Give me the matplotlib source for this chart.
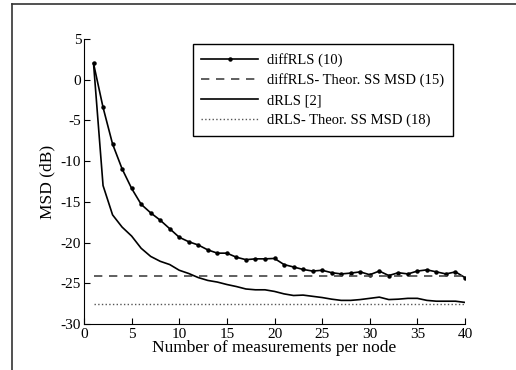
import matplotlib
matplotlib.use("Agg")
import matplotlib.pyplot as plt
from matplotlib.lines import Line2D

# measurements per node
n_meas = list(range(1, 41))

# diffRLS (10), simulated MSD in dB
msd_diffrls = [2.0, -3.4, -7.9, -10.95, -13.35, -15.3, -16.35, -17.25, -18.3, -19.35,
               -19.9, -20.3, -20.9, -21.3, -21.3, -21.8, -22.1, -22.0, -22.0, -21.95,
               -22.7, -23.0, -23.3, -23.5, -23.4, -23.7, -23.85, -23.75, -23.6, -23.95,
               -23.5, -24.05, -23.7, -23.85, -23.5, -23.35, -23.6, -23.85, -23.6, -24.3]

# dRLS [2]
msd_drls = [2.0, -13.0, -16.6, -18.1, -19.2, -20.7, -21.7, -22.3, -22.7, -23.4,
            -23.8, -24.3, -24.65, -24.85, -25.15, -25.4, -25.7, -25.8, -25.8, -26.0,
            -26.3, -26.5, -26.45, -26.6, -26.75, -26.95, -27.1, -27.1, -27.0, -26.85,
            -26.7, -27.0, -26.95, -26.85, -26.85, -27.1, -27.2, -27.2, -27.2, -27.35]

# theoretical steady-state MSD levels
ss_diffrls = -24.1
ss_drls = -27.5

labels = ["diffRLS (10)", "diffRLS- Theor. SS MSD (15)", "dRLS [2]",
          "dRLS- Theor. SS MSD (18)"]

plt.rcParams["font.family"] = ["Liberation Serif", "DejaVu Serif"]
plt.rcParams["axes.unicode_minus"] = False

fig = plt.figure(figsize=(5.16, 3.70), dpi=100)
ax = fig.add_axes([84 / 516, 1 - 324 / 370, 381 / 516, 285 / 370])

ax.plot(n_meas, msd_diffrls, "-", color="black", lw=1.2, marker="o", ms=2.2,
        label=labels[0])
ax.plot(n_meas, [ss_diffrls] * len(n_meas), "--", color="#444444", lw=1.2,
        dashes=(5, 4), label=labels[1])
ax.plot(n_meas, msd_drls, "-", color="black", lw=1.2, label=labels[2])
ax.plot(n_meas, [ss_drls] * len(n_meas), ":", color="#555555", lw=1.0,
        label=labels[3])

ax.set_xlim(0, 40)
ax.set_ylim(-30, 5)
ax.set_xticks(range(0, 41, 5))
ax.set_yticks(range(-30, 6, 5))
ax.spines["top"].set_visible(False)
ax.spines["right"].set_visible(False)
ax.tick_params(direction="in", length=4, labelsize=11, pad=2)
ax.tick_params(axis="x", pad=3)
ax.set_xlabel("Number of measurements per node", fontsize=12.5, labelpad=-1)
ax.set_ylabel("MSD (dB)", fontsize=12.5, labelpad=4)

leg = ax.legend(loc="upper right", bbox_to_anchor=(0.9685, 0.982),
                borderaxespad=0, fancybox=False, edgecolor="black",
                framealpha=1, fontsize=10.5, handlelength=3.9,
                handletextpad=0.6, labelspacing=0.45, borderpad=0.6)
leg.get_frame().set_linewidth(1.0)

# outer frame of the original figure crop
fig.add_artist(Line2D([12 / 516, 12 / 516], [0, 1 - 4 / 370], color="#333333",
                      lw=1.2, transform=fig.transFigure))
fig.add_artist(Line2D([12 / 516, 1], [1 - 4 / 370, 1 - 4 / 370], color="#333333",
                      lw=1.2, transform=fig.transFigure))

fig.savefig("out.png", dpi=100)
